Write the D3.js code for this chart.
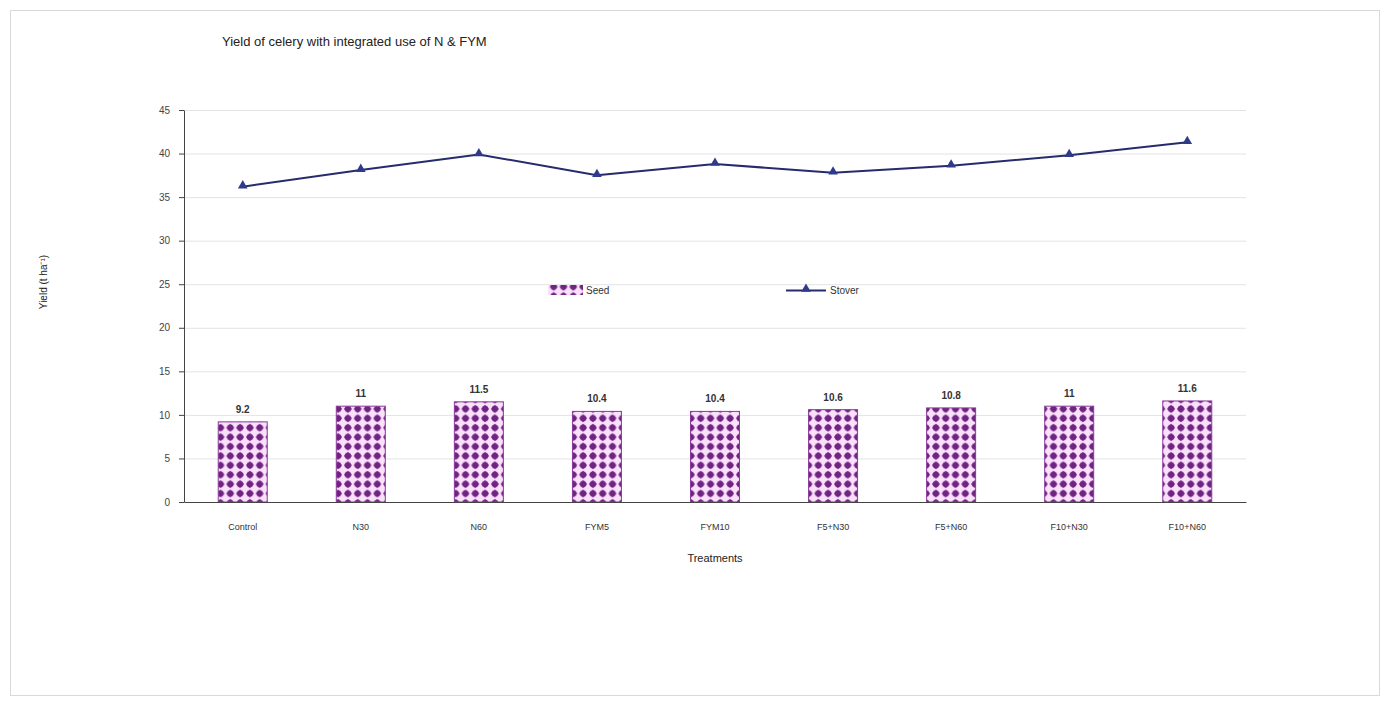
<!DOCTYPE html>
<html><head><meta charset="utf-8">
<script src="https://cdn.jsdelivr.net/npm/d3@7"></script>
<style>body{margin:0;background:#fff;}svg{display:block;font-family:"Liberation Sans",Arial,sans-serif;}</style>
</head><body>
<svg id="c" width="1389" height="702"></svg>
<script>
const categories = ["Control","N30","N60","FYM5","FYM10","F5+N30","F5+N60","F10+N30","F10+N60"];
const seed = [9.2, 11, 11.5, 10.4, 10.4, 10.6, 10.8, 11, 11.6];
const stover = [36.2, 38.1, 39.9, 37.5, 38.8, 37.8, 38.6, 39.8, 41.3];
const yTicks = [0,5,10,15,20,25,30,35,40,45];
const title = "Yield of celery with integrated use of N & FYM";
const yTitle = "Yield (t ha\u207B\u00B9)";
const xTitle = "Treatments";

const svg = d3.select("#c");
svg.append("rect").attr("x",10.5).attr("y",10.5).attr("width",1369).attr("height",685)
  .attr("fill","#fff").attr("stroke","#d9d9d9");

const defs = svg.append("defs");
const pat = defs.append("pattern").attr("id","dots").attr("patternUnits","userSpaceOnUse")
  .attr("width",9.8).attr("height",9.4);
pat.append("rect").attr("width",9.8).attr("height",9.4).attr("fill","#fbe0fb");
pat.append("path").attr("d","M4.9,0.8 L7.2,2.4 L8.9,4.7 L7.2,7.0 L4.9,8.6 L2.6,7.0 L0.9,4.7 L2.6,2.4 Z").attr("fill","#7a2c8c");
pat.append("circle").attr("cx",4.9).attr("cy",4.7).attr("r",2.9).attr("fill","#6e2481");

const L=184, R=1246, T=110, B=502;
const x = d3.scaleBand().domain(categories).range([L,R]).paddingInner(0.585).paddingOuter(0.29);
const y = d3.scaleLinear().domain([0,45]).range([B,T]);

// gridlines
svg.append("g").selectAll("line").data(yTicks.filter(d=>d>0)).join("line")
  .attr("x1",L).attr("x2",R).attr("y1",d=>y(d)+0.5).attr("y2",d=>y(d)+0.5)
  .attr("stroke","#e3e3e3").attr("stroke-width",1);

// bars
svg.append("g").selectAll("rect").data(categories).join("rect")
  .attr("x",d=>x(d)).attr("width",x.bandwidth())
  .attr("y",(d,i)=>y(seed[i])).attr("height",(d,i)=>B-y(seed[i]))
  .attr("fill","url(#dots)").attr("stroke","#8a3a9a").attr("stroke-width",1);

// bar labels
svg.append("g").selectAll("text").data(categories).join("text")
  .attr("x",d=>x(d)+x.bandwidth()/2).attr("y",(d,i)=>y(seed[i])-9)
  .attr("text-anchor","middle").attr("font-size",10).attr("font-weight","bold").attr("fill","#333")
  .text((d,i)=>seed[i]);

// axes
const yAxis = d3.axisLeft(y).tickValues(yTicks).tickSize(5).tickSizeOuter(0);
const gy = svg.append("g").attr("transform",`translate(${L},0)`).call(yAxis);
gy.select(".domain").attr("stroke","#444");
gy.selectAll(".tick line").attr("stroke","#444");
gy.selectAll(".tick text").attr("font-size",10).attr("fill","#444").attr("x",-14);

const xAxis = d3.axisBottom(x).tickSize(0).tickPadding(22);
const gx = svg.append("g").attr("transform",`translate(0,${B})`).call(xAxis);
gx.select(".domain").attr("stroke","#444").attr("stroke-width",1.2);
gx.selectAll(".tick text").attr("font-size",9).attr("fill","#333");

// line
const cx = d => x(d)+x.bandwidth()/2;
const line = d3.line().x((d,i)=>cx(categories[i])).y(d=>y(d));
svg.append("path").datum(stover).attr("d",line).attr("fill","none")
  .attr("stroke","#262b6b").attr("stroke-width",2);
const tri = d3.symbol().type(d3.symbolTriangle).size(40);
svg.append("g").selectAll("path").data(stover).join("path")
  .attr("d",tri).attr("transform",(d,i)=>`translate(${cx(categories[i])},${y(d)-1})`)
  .attr("fill","#2f3a8a");

// titles
svg.append("text").attr("x",222).attr("y",46).attr("font-size",13).attr("fill","#222").text(title);
svg.append("text").attr("x",715).attr("y",562).attr("text-anchor","middle").attr("font-size",11).attr("fill","#222").text(xTitle);
svg.append("text").attr("transform","translate(47,282) rotate(-90)").attr("text-anchor","middle")
  .attr("font-size",10).attr("fill","#222").text(yTitle);

// legend
const lg = svg.append("g");
lg.append("rect").attr("x",548).attr("y",285).attr("width",35).attr("height",10).attr("fill","url(#dots)");
lg.append("text").attr("x",586).attr("y",294).attr("font-size",10).attr("fill","#333").text("Seed");
lg.append("line").attr("x1",786).attr("x2",826).attr("y1",290.5).attr("y2",290.5).attr("stroke","#262b6b").attr("stroke-width",2);
lg.append("path").attr("d",tri).attr("transform","translate(806,289)").attr("fill","#2f3a8a");
lg.append("text").attr("x",830).attr("y",294).attr("font-size",10).attr("fill","#333").text("Stover");
</script>
</body></html>
